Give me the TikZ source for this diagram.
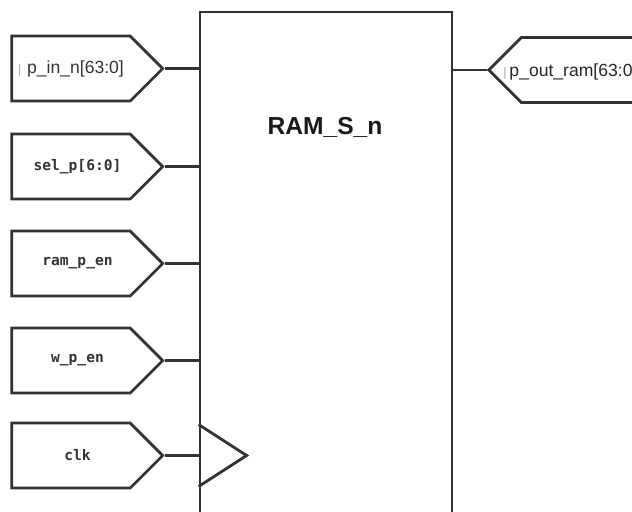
\documentclass[tikz,border=0pt]{standalone}
\usepackage{fontspec}
\setmainfont{Liberation Sans}
\newfontfamily\portfont{DejaVu Sans Mono}
\usetikzlibrary{shapes.symbols}
\tikzset{
  wire/.style={draw=black!80, line width=1.6pt},
  inport/.style={wire, shape=signal, signal to=east, signal pointer angle=90,
    minimum width=3.02cm, minimum height=1.3cm, inner sep=0pt,
    font=\portfont\bfseries\fontsize{8.3}{10}\selectfont, text=black!80},
  monoport/.style={inport, execute at begin node=\hspace*{0.26cm}},
  outport/.style={wire, shape=signal, signal to=west, signal pointer angle=90,
    minimum width=4.2cm, minimum height=1.3cm, inner sep=0pt}
}
\newcommand{\cursorbar}{{\color{black!35}\fontsize{7}{8}\selectfont|}\,}
\begin{document}
\begin{tikzpicture}[x=0.02cm, y=-0.02cm]
  \useasboundingbox (0,0) rectangle (632,511);
  \clip (0,0) rectangle (632,511);
  % block
  \node[wire, minimum width=5.04cm, minimum height=10.36cm, inner sep=0pt] (ram) at (326,271) {};
  \node[font=\bfseries\fontsize{14}{16}\selectfont, text=black!90] (ramname) at (325,127) {RAM\_S\_n};
  % inputs
  \node[inport, font=\fontsize{10}{12}\selectfont] (pin) at (71,68.5) {\cursorbar\,p\_in\_n[63:0]};
  \node[monoport] (sel) at (71,166.5) {sel\_p[6:0]};
  \node[monoport] (ramen) at (71,263.5) {ram\_p\_en};
  \node[monoport] (wen) at (71,360.5) {w\_p\_en};
  \node[monoport] (clk) at (71,455.5) {clk};
  \foreach \p in {pin,sel,ramen,wen,clk}
    \draw[wire] (\p.east) -- (\p.east -| ram.west);
  % clock marker
  \coordinate (clkin) at (clk.east -| ram.west);
  \draw[wire] (clkin) ++(0,-31) -- ++(48,31) -- ++(-48,31);
  % output
  \node[outport] (pout) at (610,70) {};
  \node[anchor=west, font=\fontsize{10}{12}\selectfont, text=black!85, inner sep=0pt] (poutname) at (503,72) {\cursorbar p\_out\_ram[63:0]};
  \draw[wire] (ram.east |- pout.west) -- (pout.west);
\end{tikzpicture}
\end{document}
